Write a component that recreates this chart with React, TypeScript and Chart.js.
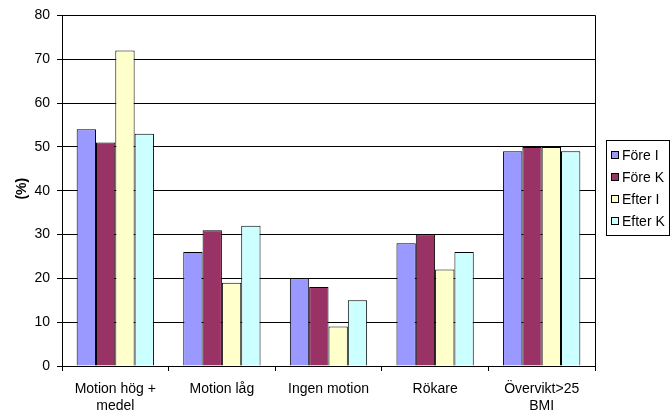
import React, { useEffect, useRef } from "react";
import { Chart, registerables } from "chart.js";

Chart.register(...registerables);

const categories: (string | string[])[] = [
  ["Motion hög +", "medel"],
  "Motion låg",
  "Ingen motion",
  "Rökare",
  ["Övervikt>25", "BMI"],
];

const seriesNames = ["Före I", "Före K", "Efter I", "Efter K"];
const seriesColors = ["#9999FF", "#993366", "#FFFFCC", "#CCFFFF"];

const foreI = [54, 26, 20, 28, 49];
const foreK = [51, 31, 18, 30, 50];
const efterI = [72, 19, 9, 22, 50];
const efterK = [53, 32, 15, 26, 49];

const yTicks = [0, 10, 20, 30, 40, 50, 60, 70, 80];
const yTitle = "(%)";

const FONT = "'Liberation Sans', Arial, sans-serif";

// Frame round the plot, the rotated axis title and a boxed legend on the right.
const decorations = {
  id: "decorations",
  afterDraw(chart: Chart) {
    const { ctx, chartArea } = chart;
    ctx.save();

    ctx.strokeStyle = "#000";
    ctx.lineWidth = 1;
    const l = Math.round(chartArea.left) + 0.5;
    const r = Math.round(chartArea.right) + 0.5;
    const t = Math.round(chartArea.top) + 0.5;
    const b = Math.round(chartArea.bottom) + 0.5;
    ctx.beginPath();
    ctx.moveTo(l, t);
    ctx.lineTo(r, t);
    ctx.lineTo(r, b);
    ctx.stroke();

    // y-axis title
    ctx.fillStyle = "#000";
    ctx.font = `bold 14px ${FONT}`;
    ctx.textAlign = "center";
    ctx.textBaseline = "middle";
    ctx.translate(22, (chartArea.top + chartArea.bottom) / 2 - 2);
    ctx.rotate(-Math.PI / 2);
    ctx.fillText(yTitle, 0, 0);
    ctx.setTransform(1, 0, 0, 1, 0, 0);

    // legend
    const boxL = 606.5;
    const boxT = 140.5;
    const boxW = 63;
    const boxH = 95;
    ctx.fillStyle = "#fff";
    ctx.fillRect(boxL, boxT, boxW, boxH);
    ctx.strokeStyle = "#000";
    ctx.strokeRect(boxL, boxT, boxW, boxH);

    ctx.font = `14px ${FONT}`;
    ctx.textAlign = "left";
    ctx.textBaseline = "middle";
    chart.data.datasets.forEach((ds, i) => {
      const cy = 156 + i * 22;
      ctx.fillStyle = ds.backgroundColor as string;
      ctx.fillRect(611.5, cy - 4.5, 7, 7);
      ctx.strokeStyle = "#000";
      ctx.strokeRect(611.5, cy - 4.5, 7, 7);
      ctx.fillStyle = "#000";
      ctx.fillText(ds.label as string, 622, cy);
    });

    ctx.restore();
  },
};

export default function App() {
  const canvasRef = useRef<HTMLCanvasElement | null>(null);

  useEffect(() => {
    if (!canvasRef.current) return;
    const values = [foreI, foreK, efterI, efterK];
    const chart = new Chart(canvasRef.current, {
      type: "bar",
      data: {
        labels: categories,
        datasets: seriesNames.map((name, i) => ({
          label: name,
          data: values[i],
          backgroundColor: seriesColors[i],
          borderColor: "#000",
          borderWidth: 1,
          categoryPercentage: 0.725,
          barPercentage: 1,
        })),
      },
      options: {
        animation: false,
        responsive: true,
        maintainAspectRatio: false,
        layout: { padding: { left: 0, top: 13, right: 75, bottom: 0 } },
        plugins: {
          legend: { display: false },
          tooltip: { enabled: false },
        },
        scales: {
          x: {
            grid: {
              offset: true,
              drawOnChartArea: false,
              drawTicks: true,
              tickLength: 5,
              color: "#000",
            },
            border: { display: true, color: "#000" },
            ticks: {
              color: "#000",
              font: { family: FONT, size: 14, lineHeight: 1.2 },
              padding: 10,
              maxRotation: 0,
              autoSkip: false,
            },
            afterFit(scale: any) {
              scale.height = 48;
            },
          },
          y: {
            min: 0,
            max: 80,
            afterBuildTicks(scale: any) {
              scale.ticks = yTicks.map((v) => ({ value: v }));
            },
            grid: {
              color: "#000",
              drawTicks: true,
              tickLength: 5,
            },
            border: { display: true, color: "#000" },
            ticks: {
              color: "#000",
              font: { family: FONT, size: 14 },
              padding: 7,
            },
            afterFit(scale: any) {
              scale.width = 62;
            },
          },
        },
      },
      plugins: [decorations],
    });
    return () => chart.destroy();
  }, []);

  return (
    <div style={{ position: "fixed", left: 0, top: 0, width: 670, height: 414, background: "#fff" }}>
      <canvas ref={canvasRef} />
    </div>
  );
}
